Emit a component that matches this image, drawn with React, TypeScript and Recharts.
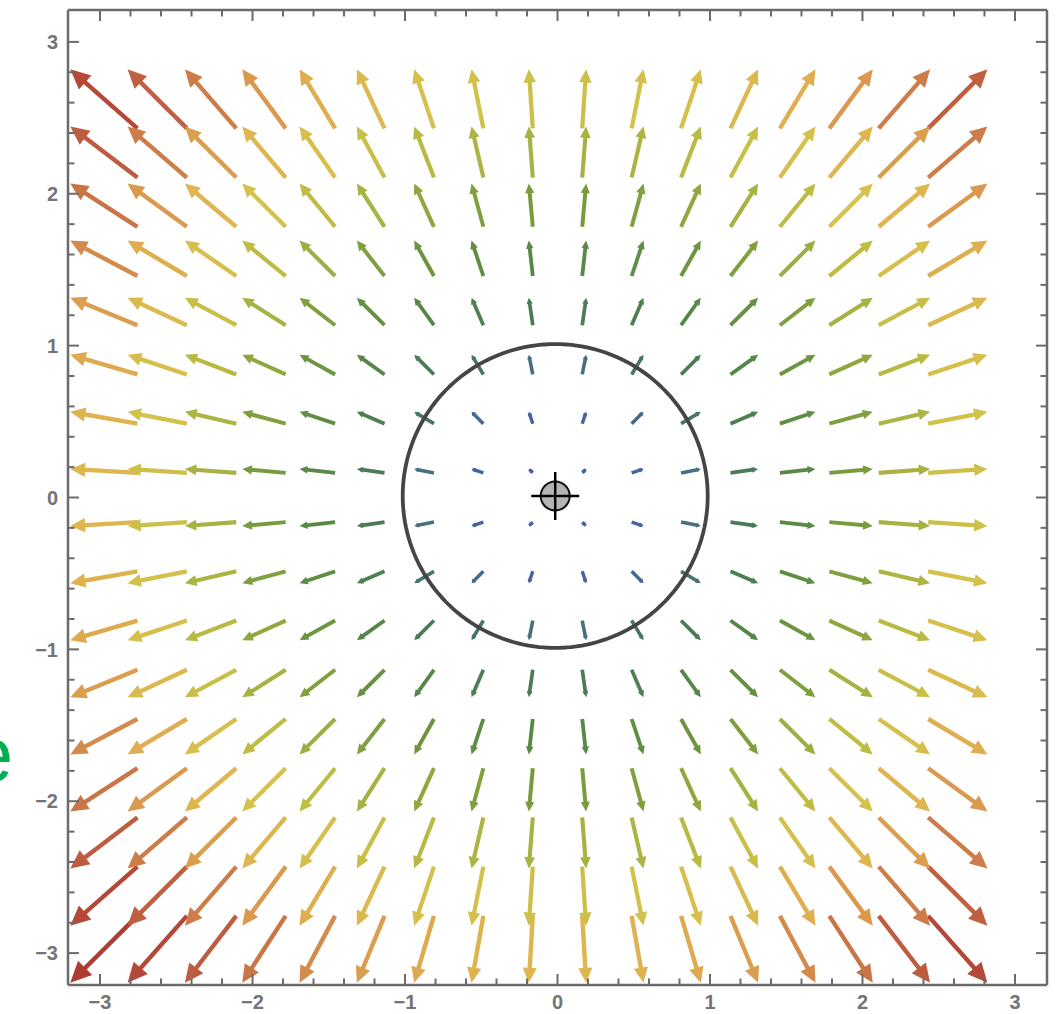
import { ScatterChart, Scatter, XAxis, YAxis } from "recharts";

// grid of sample points (the field is drawn at these x / y values)
const GRID_X = [-2.975, -2.625, -2.275, -1.925, -1.575, -1.225, -0.875, -0.525, -0.175, 0.175, 0.525, 0.875, 1.225, 1.575, 1.925, 2.275, 2.625];
const GRID_Y = [-2.975, -2.625, -2.275, -1.925, -1.575, -1.225, -0.875, -0.525, -0.175, 0.175, 0.525, 0.875, 1.225, 1.575, 1.925, 2.275, 2.625];

// radial field F(x, y) = (x, y)
const field = (x: number, y: number): [number, number] => [x, y];

const TICKS = [-3, -2.8, -2.6, -2.4, -2.2, -2, -1.8, -1.6, -1.4, -1.2, -1, -0.8, -0.6, -0.4, -0.2, 0, 0.2, 0.4, 0.6, 0.8, 1, 1.2, 1.4, 1.6, 1.8, 2, 2.2, 2.4, 2.6, 2.8, 3];
const MAJOR_TICKS = [-3, -2, -1, 0, 1, 2, 3];
const MAJOR_LABELS = ["\u22123", "\u22122", "\u22121", "0", "1", "2", "3"];

const DOMAIN: [number, number] = [-3.21, 3.21];
const CIRCLE_CENTER = { x: -0.015, y: 0.01 };
const CIRCLE_RADIUS = 1;
const LOCATOR = { x: -0.015, y: 0.01 };

const ARROW_SCALE = 0.148; // data length per unit of magnitude

// magnitude -> colour
const COLOR_STOPS: [number, string][] = [
  [0.25, "#4d62a8"],
  [0.55, "#4a62a0"],
  [0.9, "#476f80"],
  [1.05, "#487568"],
  [1.25, "#4a7b55"],
  [1.6, "#5a8a45"],
  [1.95, "#7a9c3e"],
  [2.25, "#a2b042"],
  [2.5, "#c0bd45"],
  [2.7, "#d4c24c"],
  [3.0, "#e0b450"],
  [3.25, "#da9a4e"],
  [3.5, "#cc7a48"],
  [3.75, "#bd5b40"],
  [4.0, "#b44638"],
  [4.25, "#ab3a32"],
];

const hex = (c: string) => [1, 3, 5].map((i) => parseInt(c.slice(i, i + 2), 16));
function colorAt(m: number) {
  if (m <= COLOR_STOPS[0][0]) return COLOR_STOPS[0][1];
  for (let i = 1; i < COLOR_STOPS.length; i++) {
    const [m1, c1] = COLOR_STOPS[i];
    if (m <= m1) {
      const [m0, c0] = COLOR_STOPS[i - 1];
      const t = (m - m0) / (m1 - m0);
      const a = hex(c0), b = hex(c1);
      return `rgb(${a.map((v, k) => Math.round(v + (b[k] - v) * t)).join(",")})`;
    }
  }
  return COLOR_STOPS[COLOR_STOPS.length - 1][1];
}

const arrows = GRID_Y.flatMap((y) =>
  GRID_X.map((x) => {
    const [u, v] = field(x, y);
    const mag = Math.hypot(u, v);
    const su = ARROW_SCALE * u, sv = ARROW_SCALE * v;
    return {
      tail: { x: x - 0.5 * su, y: y - 0.5 * sv },
      end: { x: x + 0.38 * su, y: y + 0.38 * sv },
      tip: { x: x + 0.5 * su, y: y + 0.5 * sv, angle: Math.atan2(v, u), mag, color: colorAt(mag) },
      color: colorAt(mag),
      width: Math.min(4.4, 3.2 + 0.4 * mag),
    };
  })
);

const circlePts = Array.from({ length: 181 }, (_, i) => {
  const t = (i / 180) * 2 * Math.PI;
  return { x: CIRCLE_CENTER.x + CIRCLE_RADIUS * Math.cos(t), y: CIRCLE_CENTER.y + CIRCLE_RADIUS * Math.sin(t) };
});

const FRAME = "#6b6b6b";
const LABEL_FONT = "'Liberation Sans', Arial, sans-serif";
const LABEL_COLOR = "#747474";

const isMajor = (v: number) => MAJOR_TICKS.some((m) => Math.abs(m - v) < 1e-6);
const labelOf = (v: number) => MAJOR_LABELS[MAJOR_TICKS.findIndex((m) => Math.abs(m - v) < 1e-6)];
const tickLen = (v: number) => (isMajor(v) ? 11 : 6.5);

const BottomTick = ({ x, y, payload }: any) => (
  <g>
    <line x1={x} y1={y} x2={x} y2={y - tickLen(payload.value)} stroke={FRAME} strokeWidth={2} />
    {isMajor(payload.value) && (
      <text x={x} y={y + 24} textAnchor="middle" fontSize={20} fontWeight="bold" fontFamily={LABEL_FONT} fill={LABEL_COLOR}>
        {labelOf(payload.value)}
      </text>
    )}
  </g>
);
const TopTick = ({ x, y, payload }: any) => (
  <line x1={x} y1={y} x2={x} y2={y + tickLen(payload.value)} stroke={FRAME} strokeWidth={2} />
);
const LeftTick = ({ x, y, payload }: any) => (
  <g>
    <line x1={x} y1={y} x2={x + tickLen(payload.value)} y2={y} stroke={FRAME} strokeWidth={2} />
    {isMajor(payload.value) && (
      <text x={x - 10} y={y} dy="0.36em" textAnchor="end" fontSize={20} fontWeight="bold" fontFamily={LABEL_FONT} fill={LABEL_COLOR}>
        {labelOf(payload.value)}
      </text>
    )}
  </g>
);
const RightTick = ({ x, y, payload }: any) => (
  <line x1={x} y1={y} x2={x - tickLen(payload.value)} y2={y} stroke={FRAME} strokeWidth={2} />
);

// polyline through the points Recharts computed for a Scatter line
const makeLine = (color: string, width: number) => (p: any) => {
  const pts: { x: number; y: number }[] = p.points || [];
  return (
    <polyline
      points={pts.map((q) => `${q.x},${q.y}`).join(" ")}
      fill="none"
      stroke={color}
      strokeWidth={width}
      strokeLinejoin="round"
    />
  );
};

const ArrowHead = ({ cx, cy, payload }: any) => {
  const L = Math.max(4, payload.mag * 5);
  const W = Math.max(5, L * 0.95);
  const dx = Math.cos(payload.angle), dy = -Math.sin(payload.angle);
  const bx = cx - dx * L, by = cy - dy * L;
  const px = -dy * W / 2, py = dx * W / 2;
  return (
    <polygon
      points={`${cx},${cy} ${bx + px},${by + py} ${bx - px},${by - py}`}
      fill={payload.color}
    />
  );
};

const Locator = ({ cx, cy }: any) => (
  <g>
    <circle cx={cx} cy={cy} r={14.5} fill="#b4b4b4" stroke="#111" strokeWidth={2} />
    <rect x={cx - 2} y={cy - 2} width={4} height={4} fill="#fff" />
    <line x1={cx - 24} y1={cy} x2={cx + 24} y2={cy} stroke="#000" strokeWidth={2.5} />
    <line x1={cx} y1={cy - 24} x2={cx} y2={cy + 24} stroke="#000" strokeWidth={2.5} />
  </g>
);

const NoDot = () => <g />;

export default function App() {
  return (
    <div style={{ position: "fixed", left: 0, top: 0, width: 1059, height: 1014, background: "#fff", overflow: "hidden" }}>
      <ScatterChart width={1059} height={1014} margin={{ top: 9, right: 11, bottom: 0, left: 0 }}>
        <XAxis
          type="number"
          dataKey="x"
          domain={DOMAIN}
          allowDataOverflow
          ticks={TICKS}
          interval={0}
          height={29}
          tickSize={0}
          tickMargin={0}
          tickLine={false}
          axisLine={{ stroke: FRAME, strokeWidth: 2.5 }}
          tick={<BottomTick />}
        />
        <XAxis
          xAxisId="top"
          orientation="top"
          type="number"
          dataKey="x"
          domain={DOMAIN}
          allowDataOverflow
          ticks={TICKS}
          interval={0}
          height={1}
          tickSize={0}
          tickMargin={0}
          tickLine={false}
          axisLine={{ stroke: FRAME, strokeWidth: 2.5 }}
          tick={<TopTick />}
        />
        <YAxis
          type="number"
          dataKey="y"
          domain={DOMAIN}
          allowDataOverflow
          ticks={TICKS}
          interval={0}
          width={68}
          tickSize={0}
          tickMargin={0}
          tickLine={false}
          axisLine={{ stroke: FRAME, strokeWidth: 2.5 }}
          tick={<LeftTick />}
        />
        <YAxis
          yAxisId="right"
          orientation="right"
          type="number"
          dataKey="y"
          domain={DOMAIN}
          allowDataOverflow
          ticks={TICKS}
          interval={0}
          width={1}
          tickSize={0}
          tickMargin={0}
          tickLine={false}
          axisLine={{ stroke: FRAME, strokeWidth: 2.5 }}
          tick={<RightTick />}
        />
        {arrows.map((a, i) => (
          <Scatter
            key={`s${i}`}
            data={[a.tail, a.end]}
            line={makeLine(a.color, a.width)}
            shape={NoDot}
            isAnimationActive={false}
          />
        ))}
        <Scatter data={arrows.map((a) => a.tip)} shape={ArrowHead} isAnimationActive={false} />
        <Scatter
          data={circlePts}
          line={makeLine("#454545", 3.8)}
          shape={NoDot}
          isAnimationActive={false}
        />
        <Scatter data={[LOCATOR]} shape={Locator} isAnimationActive={false} />
      </ScatterChart>
      <svg width={60} height={1014} style={{ position: "absolute", left: 0, top: 0, pointerEvents: "none" }}>
        <text x={13} y={781} textAnchor="end" fontSize={77} fontFamily={LABEL_FONT} fill="#00b050">e</text>
      </svg>
    </div>
  );
}
